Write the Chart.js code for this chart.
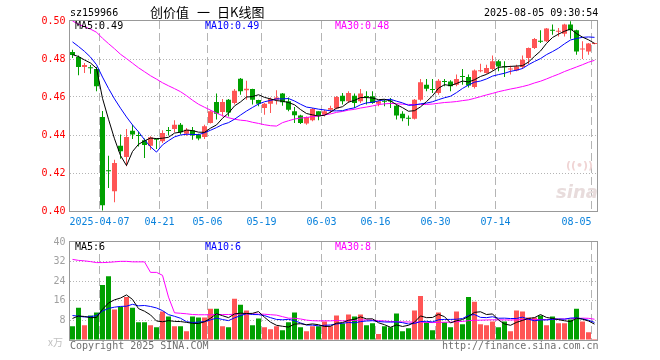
<!DOCTYPE html>
<html lang="zh-CN">
<head>
<meta charset="utf-8">
<title>创价值 日K线图</title>
<script src="https://cdn.jsdelivr.net/npm/chart.js@4.4.1/dist/chart.umd.min.js"></script>
<style>
  html, body { margin: 0; padding: 0; background: #fff; }
  #box { position: relative; width: 660px; height: 360px; overflow: hidden;
         font: 10px/12px 'DejaVu Sans Mono', 'Liberation Mono', monospace; color: #000; }
  #box canvas { position: absolute; left: 0; }
  .t { position: absolute; white-space: pre; }
  .cjk { font: 13px/14px 'Noto Sans CJK SC', sans-serif; }
</style>
</head>
<body>
<div id="box">
  <canvas id="kline" width="660" height="232" style="top:0"></canvas>
  <canvas id="vol" width="660" height="128" style="top:232px"></canvas>

  <div class="t" style="left:70px;top:7px">sz159966</div>
  <div class="t cjk" style="left:150px;top:5px">创价值</div>
  <div class="t cjk" style="left:197px;top:5px">一</div>
  <div class="t cjk" style="left:217px;top:5px">日K线图</div>
  <div class="t" style="left:484px;top:7px">2025-08-05 09:30:54</div>

  <div class="t" style="left:75px;top:20px">MA5:0.49</div>
  <div class="t" style="left:205px;top:20px;color:#0000ff">MA10:0.49</div>
  <div class="t" style="left:335px;top:20px;color:#ff00ff">MA30:0.48</div>

  <div class="t" style="left:566px;top:160px;font:bold 11px/12px 'DejaVu Sans', sans-serif;color:#f0d4d4">((•))</div>
  <div class="t" style="left:556px;top:182px;font:italic bold 18px/20px 'DejaVu Sans', sans-serif;color:#e8dcdc">sina</div>

  <div class="t" style="left:75px;top:241px">MA5:6</div>
  <div class="t" style="left:205px;top:241px;color:#0000ff">MA10:6</div>
  <div class="t" style="left:335px;top:241px;color:#ff00ff">MA30:8</div>

  <div class="t" style="left:48px;top:336px;color:#c0c0c0;font:10px/12px 'Noto Sans CJK SC', sans-serif">x万</div>
  <div class="t" style="left:70px;top:340px;color:#707070">Copyright 2025 SINA.COM</div>
  <div class="t" style="left:442px;top:340px;color:#707070">http://finance.sina.com.cn</div>
</div>

<script>
const dates = [
  '2025-03-28', '2025-03-31', '2025-04-01', '2025-04-02', '2025-04-03', '2025-04-07', '2025-04-08', '2025-04-09',
  '2025-04-10', '2025-04-11', '2025-04-14', '2025-04-15', '2025-04-16', '2025-04-17', '2025-04-18', '2025-04-21',
  '2025-04-22', '2025-04-23', '2025-04-24', '2025-04-25', '2025-04-28', '2025-04-29', '2025-04-30', '2025-05-06',
  '2025-05-07', '2025-05-08', '2025-05-09', '2025-05-12', '2025-05-13', '2025-05-14', '2025-05-15', '2025-05-16',
  '2025-05-19', '2025-05-20', '2025-05-21', '2025-05-22', '2025-05-23', '2025-05-26', '2025-05-27', '2025-05-28',
  '2025-05-29', '2025-05-30', '2025-06-03', '2025-06-04', '2025-06-05', '2025-06-06', '2025-06-09', '2025-06-10',
  '2025-06-11', '2025-06-12', '2025-06-13', '2025-06-16', '2025-06-17', '2025-06-18', '2025-06-19', '2025-06-20',
  '2025-06-23', '2025-06-24', '2025-06-25', '2025-06-26', '2025-06-27', '2025-06-30', '2025-07-01', '2025-07-02',
  '2025-07-03', '2025-07-04', '2025-07-07', '2025-07-08', '2025-07-09', '2025-07-10', '2025-07-11', '2025-07-14',
  '2025-07-15', '2025-07-16', '2025-07-17', '2025-07-18', '2025-07-21', '2025-07-22', '2025-07-23', '2025-07-24',
  '2025-07-25', '2025-07-28', '2025-07-29', '2025-07-30', '2025-07-31', '2025-08-01', '2025-08-04', '2025-08-05'
];

// dates that get a label and a dashed grid line
const markedDates = ['2025-04-07', '2025-04-21', '2025-05-06', '2025-05-19', '2025-06-03',
  '2025-06-16', '2025-06-30', '2025-07-14', '2025-08-05'];

const open = [
  0.4837, 0.4811, 0.4758, 0.4754, 0.4747, 0.4495, 0.4214, 0.4104, 0.4344, 0.4284,
  0.4423, 0.4400, 0.4372, 0.4344, 0.4379, 0.4367, 0.4425, 0.4432, 0.4454, 0.4407,
  0.4425, 0.4402, 0.4389, 0.4463, 0.4574, 0.4521, 0.4586, 0.4568, 0.4696, 0.4635,
  0.4642, 0.4584, 0.4542, 0.4565, 0.4586, 0.4618, 0.4577, 0.4525, 0.4502, 0.4460,
  0.4477, 0.4525, 0.4507, 0.4533, 0.4540, 0.4607, 0.4577, 0.4607, 0.4577, 0.4605,
  0.4604, 0.4565, 0.4579, 0.4579, 0.4554, 0.4512, 0.4488, 0.4486, 0.4586, 0.4665,
  0.4640, 0.4621, 0.4682, 0.4682, 0.4665, 0.4709, 0.4705, 0.4653, 0.4735, 0.4726,
  0.4747, 0.4788, 0.4760, 0.4745, 0.4740, 0.4758, 0.4805, 0.4858, 0.4895, 0.4893,
  0.4953, 0.4944, 0.4933, 0.4981, 0.4951, 0.4850, 0.4840, 0.4879
];
const high = [
  0.4849, 0.4818, 0.4779, 0.4768, 0.4758, 0.4526, 0.4291, 0.4270, 0.4402, 0.4432,
  0.4454, 0.4419, 0.4382, 0.4393, 0.4382, 0.4425, 0.4442, 0.4477, 0.4463, 0.4437,
  0.4442, 0.4407, 0.4454, 0.4530, 0.4618, 0.4589, 0.4589, 0.4642, 0.4700, 0.4686,
  0.4644, 0.4586, 0.4568, 0.4598, 0.4635, 0.4621, 0.4598, 0.4547, 0.4507, 0.4498,
  0.4542, 0.4525, 0.4533, 0.4554, 0.4605, 0.4621, 0.4630, 0.4618, 0.4642, 0.4630,
  0.4630, 0.4581, 0.4586, 0.4595, 0.4560, 0.4525, 0.4502, 0.4589, 0.4695, 0.4695,
  0.4695, 0.4695, 0.4695, 0.4688, 0.4718, 0.4747, 0.4718, 0.4745, 0.4775, 0.4770,
  0.4818, 0.4796, 0.4788, 0.4765, 0.4770, 0.4818, 0.4861, 0.4911, 0.4951, 0.4963,
  0.4981, 0.4963, 0.4986, 0.4999, 0.4954, 0.4893, 0.4884, 0.4886
];
const low = [
  0.4805, 0.4714, 0.4726, 0.4723, 0.4630, 0.4003, 0.4121, 0.4046, 0.4275, 0.4235,
  0.4379, 0.4340, 0.4279, 0.4323, 0.4326, 0.4358, 0.4398, 0.4414, 0.4402, 0.4396,
  0.4375, 0.4372, 0.4379, 0.4461, 0.4481, 0.4498, 0.4498, 0.4560, 0.4612, 0.4586,
  0.4560, 0.4551, 0.4507, 0.4516, 0.4560, 0.4554, 0.4525, 0.4463, 0.4458, 0.4454,
  0.4472, 0.4477, 0.4498, 0.4516, 0.4535, 0.4560, 0.4568, 0.4542, 0.4568, 0.4560,
  0.4565, 0.4551, 0.4551, 0.4542, 0.4481, 0.4472, 0.4449, 0.4481, 0.4577, 0.4630,
  0.4621, 0.4612, 0.4656, 0.4630, 0.4656, 0.4665, 0.4650, 0.4645, 0.4730, 0.4723,
  0.4740, 0.4735, 0.4705, 0.4718, 0.4735, 0.4747, 0.4774, 0.4853, 0.4884, 0.4889,
  0.4928, 0.4919, 0.4919, 0.4907, 0.4823, 0.4800, 0.4823, 0.4877
];
const close = [
  0.4821, 0.4758, 0.4768, 0.4751, 0.4656, 0.4030, 0.4209, 0.4253, 0.4314, 0.4389,
  0.4402, 0.4395, 0.4347, 0.4388, 0.4375, 0.4411, 0.4421, 0.4454, 0.4414, 0.4428,
  0.4398, 0.4382, 0.4446, 0.4525, 0.4512, 0.4574, 0.4519, 0.4633, 0.4630, 0.4644,
  0.4586, 0.4565, 0.4565, 0.4589, 0.4598, 0.4572, 0.4533, 0.4504, 0.4463, 0.4495,
  0.4537, 0.4502, 0.4525, 0.4542, 0.4600, 0.4577, 0.4621, 0.4568, 0.4618, 0.4600,
  0.4568, 0.4577, 0.4575, 0.4576, 0.4502, 0.4488, 0.4486, 0.4586, 0.4677, 0.4644,
  0.4637, 0.4686, 0.4679, 0.4656, 0.4695, 0.4705, 0.4660, 0.4740, 0.4739, 0.4753,
  0.4788, 0.4761, 0.4756, 0.4749, 0.4761, 0.4796, 0.4858, 0.4905, 0.4891, 0.4960,
  0.4949, 0.4948, 0.4981, 0.4951, 0.4840, 0.4854, 0.4881, 0.4884
];

const ma5 = [
  0.4823, 0.4813, 0.4795, 0.4779, 0.4751, 0.4593, 0.4483, 0.4380, 0.4292, 0.4239,
  0.4313, 0.4351, 0.4369, 0.4384, 0.4381, 0.4383, 0.4388, 0.4410, 0.4415, 0.4426,
  0.4423, 0.4415, 0.4414, 0.4436, 0.4453, 0.4488, 0.4515, 0.4553, 0.4574, 0.4600,
  0.4602, 0.4612, 0.4598, 0.4590, 0.4581, 0.4578, 0.4571, 0.4559, 0.4534, 0.4513,
  0.4506, 0.4500, 0.4504, 0.4520, 0.4541, 0.4549, 0.4573, 0.4582, 0.4597, 0.4597,
  0.4595, 0.4586, 0.4588, 0.4579, 0.4560, 0.4544, 0.4525, 0.4528, 0.4548, 0.4576,
  0.4606, 0.4646, 0.4665, 0.4660, 0.4671, 0.4684, 0.4679, 0.4691, 0.4708, 0.4719,
  0.4736, 0.4756, 0.4759, 0.4761, 0.4763, 0.4765, 0.4784, 0.4814, 0.4842, 0.4882,
  0.4913, 0.4931, 0.4946, 0.4958, 0.4934, 0.4915, 0.4901, 0.4882
];
const ma10 = [
  0.4890, 0.4866, 0.4840, 0.4810, 0.4770, 0.4705, 0.4645, 0.4590, 0.4541, 0.4495,
  0.4453, 0.4417, 0.4375, 0.4338, 0.4310, 0.4348, 0.4370, 0.4390, 0.4400, 0.4404,
  0.4403, 0.4402, 0.4412, 0.4425, 0.4439, 0.4455, 0.4465, 0.4483, 0.4505, 0.4526,
  0.4545, 0.4563, 0.4575, 0.4582, 0.4590, 0.4590, 0.4592, 0.4579, 0.4562, 0.4547,
  0.4542, 0.4536, 0.4532, 0.4527, 0.4527, 0.4528, 0.4537, 0.4543, 0.4559, 0.4569,
  0.4572, 0.4580, 0.4585, 0.4588, 0.4578, 0.4569, 0.4556, 0.4558, 0.4564, 0.4568,
  0.4575, 0.4586, 0.4596, 0.4604, 0.4623, 0.4645, 0.4663, 0.4678, 0.4684, 0.4695,
  0.4710, 0.4718, 0.4725, 0.4735, 0.4741, 0.4750, 0.4770, 0.4787, 0.4802, 0.4823,
  0.4839, 0.4857, 0.4880, 0.4900, 0.4908, 0.4914, 0.4916, 0.4914
];
const ma30 = [
  0.5000, 0.4983, 0.4970, 0.4957, 0.4941, 0.4909, 0.4881, 0.4854, 0.4825, 0.4802,
  0.4778, 0.4754, 0.4733, 0.4712, 0.4694, 0.4675, 0.4659, 0.4644, 0.4628, 0.4607,
  0.4583, 0.4562, 0.4546, 0.4531, 0.4515, 0.4502, 0.4491, 0.4483, 0.4478, 0.4475,
  0.4467, 0.4461, 0.4454, 0.4449, 0.4447, 0.4465, 0.4475, 0.4484, 0.4489, 0.4492,
  0.4497, 0.4500, 0.4506, 0.4511, 0.4519, 0.4524, 0.4531, 0.4535, 0.4542, 0.4547,
  0.4553, 0.4560, 0.4564, 0.4566, 0.4565, 0.4562, 0.4561, 0.4560, 0.4561, 0.4561,
  0.4563, 0.4567, 0.4571, 0.4573, 0.4576, 0.4581, 0.4585, 0.4593, 0.4602, 0.4611,
  0.4619, 0.4628, 0.4635, 0.4642, 0.4648, 0.4655, 0.4663, 0.4674, 0.4683, 0.4695,
  0.4708, 0.4720, 0.4734, 0.4746, 0.4758, 0.4770, 0.4783, 0.4793
];

// volume in 万 (x万)
const volume = [
  5.6, 13.2, 6.0, 10.0, 11.2, 22.4, 26.0, 12.4, 13.6, 17.6,
  13.2, 7.2, 7.2, 6.0, 5.2, 11.6, 9.6, 5.6, 5.6, 3.6,
  9.6, 9.2, 9.2, 12.8, 12.8, 5.6, 5.2, 16.8, 14.4, 12.0,
  6.0, 8.8, 5.2, 4.4, 5.6, 4.0, 7.2, 11.2, 5.2, 3.6,
  5.6, 5.6, 7.6, 5.6, 10.0, 6.7, 10.4, 9.6, 10.4, 6.0,
  6.8, 2.4, 5.6, 5.2, 10.8, 3.6, 4.8, 12.0, 18.0, 7.2,
  4.0, 11.2, 7.2, 5.2, 11.6, 6.4, 17.6, 15.6, 6.4, 6.0,
  7.6, 5.2, 7.6, 3.6, 12.0, 11.6, 9.2, 9.2, 10.0, 6.0,
  9.6, 6.8, 6.8, 8.4, 12.8, 7.6, 3.2, 0.4
];
const volMa5 = [
  8.8, 9.8, 9.6, 9.1, 9.2, 12.56, 15.12, 16.4, 17.12, 18.4,
  16.56, 12.8, 11.76, 10.24, 7.76, 7.44, 7.92, 7.6, 7.52, 7.2,
  6.8, 6.72, 7.44, 8.88, 10.72, 9.92, 9.12, 10.64, 10.96, 10.8,
  10.88, 11.6, 9.28, 7.28, 6.0, 5.6, 5.28, 6.48, 6.64, 6.24,
  6.56, 6.24, 5.52, 5.6, 6.88, 7.1, 8.06, 8.46, 9.42, 8.62,
  8.64, 7.04, 6.24, 5.2, 6.16, 5.52, 6.0, 7.28, 9.84, 9.12,
  9.2, 10.48, 9.52, 6.96, 7.84, 8.32, 9.6, 11.28, 11.52, 10.4,
  10.64, 8.16, 6.56, 6.0, 7.2, 8.0, 8.8, 9.12, 10.4, 9.2,
  8.8, 8.32, 7.84, 7.52, 8.88, 8.48, 7.76, 6.48
];
const volMa10 = [
  10.0, 9.7, 9.4, 9.5, 10.0, 11.8, 12.9, 13.4, 13.7, 13.8,
  14.56, 13.96, 14.08, 13.68, 13.08, 12.0, 10.36, 9.68, 8.88, 7.48,
  7.12, 7.32, 7.52, 8.2, 8.96, 8.36, 7.92, 9.04, 9.92, 10.76,
  10.4, 10.36, 9.96, 9.12, 8.4, 8.24, 8.44, 7.88, 6.96, 6.12,
  6.08, 5.76, 6.0, 6.12, 6.56, 6.83, 7.15, 6.99, 7.51, 7.75,
  7.87, 7.55, 7.35, 7.31, 7.39, 7.08, 6.52, 6.76, 7.52, 7.64,
  7.36, 8.24, 8.4, 8.4, 8.48, 8.76, 10.04, 10.4, 9.24, 9.12,
  9.48, 8.88, 8.92, 8.76, 8.8, 9.32, 8.48, 7.84, 8.2, 8.2,
  8.4, 8.56, 8.48, 8.96, 9.04, 8.64, 8.06, 7.18
];
const volMa30 = [
  32.9, 32.5, 32.3, 32.0, 31.6, 31.6, 31.7, 31.9, 32.1, 32.1,
  31.9, 31.9, 31.9, 27.6, 27.6, 26.4, 17.5, 11.1, 10.9, 10.7,
  10.4, 10.3, 10.3, 10.3, 10.4, 10.4, 10.4, 10.5, 10.6, 10.68,
  10.69, 10.55, 10.52, 10.33, 10.15, 9.53, 8.91, 8.87, 8.59, 8.12,
  7.87, 7.81, 7.83, 7.81, 7.97, 7.81, 7.84, 7.97, 8.13, 8.21,
  8.12, 7.89, 7.77, 7.52, 7.45, 7.38, 7.37, 7.21, 7.33, 7.17,
  7.10, 7.18, 7.25, 7.28, 7.48, 7.56, 7.90, 8.05, 8.09, 8.17,
  8.24, 8.22, 8.22, 8.16, 8.22, 8.39, 8.35, 8.33, 8.32, 8.32,
  8.41, 8.56, 8.60, 8.71, 8.77, 8.91, 8.85, 8.47
];

const priceTicks = [0.40, 0.42, 0.44, 0.46, 0.48, 0.50];
const volTicks = [0, 8, 16, 24, 32, 40];

const RED = '#ff5555';
const GREEN = '#00a000';
const GRID = '#b4b4b4';
const MONO = '"DejaVu Sans Mono", "Liberation Mono", monospace';

const barColor = close.map((c, i) => (c >= open[i] ? RED : GREEN));
const markIdx = markedDates.map((d) => dates.indexOf(d));

const framePlugin = {
  id: 'frame',
  afterDraw(chart) {
    const { ctx, chartArea: a } = chart;
    const l = Math.floor(a.left) + 0.5;
    const r = Math.floor(a.right) + 0.5;
    ctx.save();
    ctx.strokeStyle = '#999';
    ctx.lineWidth = 1;
    ctx.strokeRect(l, a.top - 0.5, r - l, a.bottom - a.top + 1);
    ctx.restore();
  }
};

const dateLabels = {
  id: 'dateLabels',
  afterDraw(chart) {
    const x = chart.scales.x;
    const ctx = chart.ctx;
    const half = (x.getPixelForValue(1) - x.getPixelForValue(0)) / 2;
    ctx.save();
    ctx.font = '10px ' + MONO;
    ctx.fillStyle = '#0a82dc';
    ctx.textBaseline = 'middle';
    markedDates.forEach((d, k) => {
      const px = x.getPixelForValue(dates.indexOf(d)) - half;
      ctx.textAlign = k === markedDates.length - 1 ? 'right' : 'center';
      ctx.fillText(k === 0 ? d : d.slice(5), px, chart.chartArea.bottom + 11);
    });
    ctx.restore();
  }
};

function line(data, color) {
  return { type: 'line', data, borderColor: color, borderWidth: 1, pointRadius: 0, tension: 0, fill: false, order: 0 };
}

function xAxis() {
  return {
    type: 'category',
    offset: true,
    ticks: { display: false, autoSkip: false },
    grid: {
      offset: true,
      drawTicks: false,
      lineWidth: 1,
      color: (c) => (markIdx.includes(c.index) ? GRID : 'rgba(0,0,0,0)')
    },
    border: { display: false, dash: [8, 4] },
    afterFit: (s) => { s.height = 0; }
  };
}

function yAxis(values, color, fmt) {
  return {
    min: values[0],
    max: values[values.length - 1],
    afterBuildTicks: (s) => { s.ticks = values.map((v) => ({ value: v })); },
    ticks: { color, padding: 4, font: { family: MONO, size: 10 }, callback: fmt },
    grid: {
      drawTicks: false,
      lineWidth: 1,
      color: (c) => (c.index > 0 && c.index < values.length - 1 ? GRID : 'rgba(0,0,0,0)')
    },
    border: { display: false, dash: [1, 2] },
    afterFit: (s) => { s.width = 69.5; }
  };
}

function options(padding, y) {
  return {
    responsive: false,
    animation: false,
    events: [],
    layout: { padding },
    plugins: { legend: { display: false }, tooltip: { enabled: false } },
    scales: { x: xAxis(), y }
  };
}

new Chart(document.getElementById('kline'), {
  type: 'bar',
  data: {
    labels: dates,
    datasets: [
      line(ma5, '#000000'),
      line(ma10, '#0000ff'),
      line(ma30, '#ff00ff'),
      {
        data: open.map((o, i) => [o, close[i]]),
        backgroundColor: barColor, borderWidth: 0, barThickness: 5,
        minBarLength: 1, grouped: false, inflateAmount: 0, order: 1
      },
      {
        data: low.map((l, i) => [l, high[i]]),
        backgroundColor: barColor, borderWidth: 0, barThickness: 1,
        grouped: false, inflateAmount: 0, order: 2
      }
    ]
  },
  options: options({ left: 0, right: 62.5, top: 21, bottom: 21 },
    yAxis(priceTicks, '#ff0000', (v) => Number(v).toFixed(2))),
  plugins: [framePlugin, dateLabels]
});

new Chart(document.getElementById('vol'), {
  type: 'bar',
  data: {
    labels: dates,
    datasets: [
      line(volMa5, '#000000'),
      line(volMa10, '#0000ff'),
      line(volMa30, '#ff00ff'),
      {
        data: volume,
        backgroundColor: barColor, borderWidth: 0, barThickness: 5,
        grouped: false, inflateAmount: 0, order: 1
      }
    ]
  },
  options: options({ left: 0, right: 62.5, top: 8, bottom: 20 },
    yAxis(volTicks, '#a0a0a0', (v) => (v === 0 ? '' : String(v)))),
  plugins: [framePlugin]
});
</script>
</body>
</html>
